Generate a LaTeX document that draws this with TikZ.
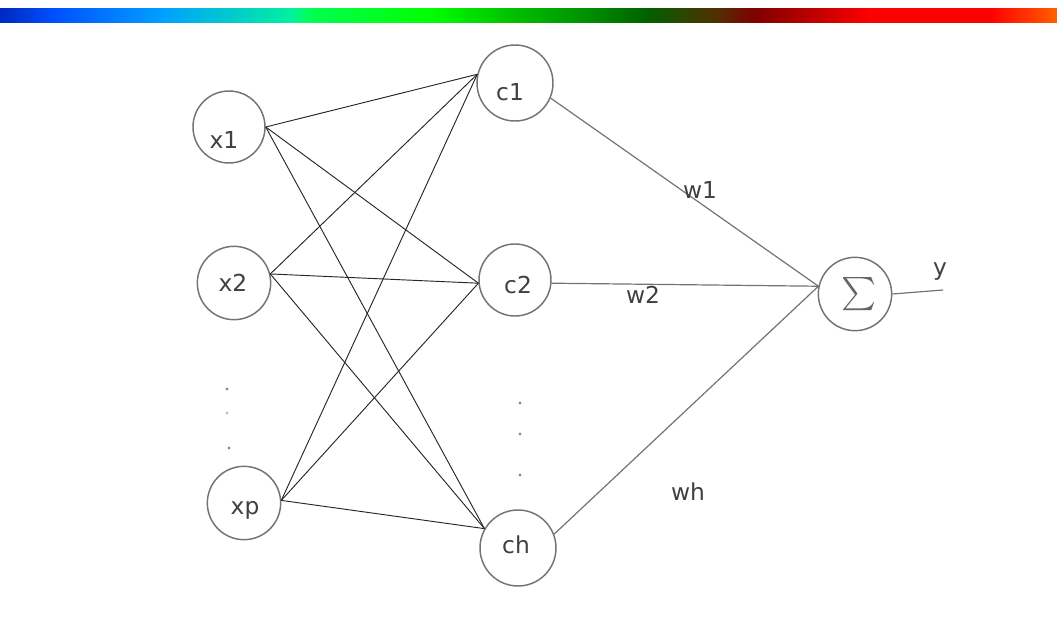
\documentclass[tikz,border=0pt]{standalone}
\usepackage{amsmath}
\usepackage{fontspec}
\setmainfont{DejaVu Sans}
\begin{document}
\begin{tikzpicture}[x=0.75pt,y=-0.75pt,
 neuron/.style={circle,draw=black!55,line width=1.1pt,minimum size=55pt,inner sep=0pt},
 lbl/.style={text=black!75,font=\fontsize{17.5}{17.5}\selectfont,inner sep=0pt},
 wire/.style={draw=black!85,line width=0.7pt},
 outwire/.style={draw=black!55,line width=0.9pt},
 dotmark/.style={circle,fill=black!45,inner sep=0pt,minimum size=2.4pt}]
\useasboundingbox (0,0) rectangle (1057,627);
% gradient bar
\shade[left color={rgb,255:red,0;green,40;blue,192}, right color={rgb,255:red,0;green,80;blue,255}] (0,9) rectangle (54.5,23);
\shade[left color={rgb,255:red,0;green,80;blue,255}, right color={rgb,255:red,0;green,160;blue,255}] (54,9) rectangle (162.5,23);
\shade[left color={rgb,255:red,0;green,160;blue,255}, right color={rgb,255:red,0;green,240;blue,160}] (162,9) rectangle (290.5,23);
\shade[left color={rgb,255:red,0;green,240;blue,160}, right color={rgb,255:red,0;green,255;blue,80}] (290,9) rectangle (310.5,23);
\shade[left color={rgb,255:red,0;green,255;blue,80}, right color={rgb,255:red,0;green,255;blue,0}] (310,9) rectangle (431.5,23);
\shade[left color={rgb,255:red,0;green,255;blue,0}, right color={rgb,255:red,0;green,192;blue,0}] (431,9) rectangle (512.5,23);
\shade[left color={rgb,255:red,0;green,192;blue,0}, right color={rgb,255:red,0;green,144;blue,0}] (512,9) rectangle (586.5,23);
\shade[left color={rgb,255:red,0;green,144;blue,0}, right color={rgb,255:red,0;green,96;blue,0}] (586,9) rectangle (647.5,23);
\shade[left color={rgb,255:red,0;green,96;blue,0}, right color={rgb,255:red,80;green,48;blue,0}] (647,9) rectangle (715.5,23);
\shade[left color={rgb,255:red,80;green,48;blue,0}, right color={rgb,255:red,128;green,0;blue,0}] (715,9) rectangle (755.5,23);
\shade[left color={rgb,255:red,128;green,0;blue,0}, right color={rgb,255:red,224;green,0;blue,0}] (755,9) rectangle (843.5,23);
\shade[left color={rgb,255:red,224;green,0;blue,0}, right color={rgb,255:red,255;green,0;blue,0}] (843,9) rectangle (870.5,23);
\shade[left color={rgb,255:red,255;green,0;blue,0}, right color={rgb,255:red,255;green,0;blue,0}] (870,9) rectangle (991.5,23);
\shade[left color={rgb,255:red,255;green,0;blue,0}, right color={rgb,255:red,255;green,96;blue,0}] (991,9) rectangle (1057,23);
% neurons
\node[neuron,minimum size=54pt] (x1) at (229,127) {};
\node[neuron] (x2) at (234,283) {};
\node[neuron] (xp) at (244,503) {};
\node[neuron,minimum size=57pt] (c1) at (515,83) {};
\node[neuron,minimum size=54pt] (c2) at (515,280) {};
\node[neuron,minimum size=57pt] (ch) at (518,548) {};
\node[neuron] (s) at (855,294) {};
% labels inside
\node[lbl] (x1t) at (224,140) {x1};
\node[lbl] (x2t) at (233,283) {x2};
\node[lbl] (xpt) at (245,510) {xp};
\node[lbl] (c1t) at (510,92) {c1};
\node[lbl] (c2t) at (518,285) {c2};
\node[lbl] (cht) at (516,545) {ch};
\node[text=black!60,inner sep=0pt] (sumt) at (859,294) {\fontsize{25}{25}\selectfont$\textstyle\sum$};
% input to hidden
\foreach \a in {x1.east, x2.14, xp.4}{
  \draw[wire] (\a) -- (c1.167);
  \draw[wire] (\a) -- (c2.185);
  \draw[wire] (\a) -- (ch.150);
}
% hidden to output
\draw[outwire] (c1.-23) -- (s.168);
\draw[outwire] (c2.-5) -- (s.168);
\draw[outwire] (ch.21) -- (s.168);
\coordinate (yend) at (943,290);
\draw[outwire] (s.east) -- (yend);
\node[lbl] (ylab) at (940,272) {y};
% weights
\node[lbl] (w1) at (700,190) {w1};
\node[lbl] (w2) at (643,295) {w2};
\node[lbl] (wh) at (688,492) {wh};
% dots
\node[dotmark] (d1) at (227,389) {};
\node[dotmark,fill=black!25] (d2) at (227,413) {};
\node[dotmark] (d3) at (229,448) {};
\node[dotmark] (d4) at (520,403) {};
\node[dotmark] (d5) at (520,434) {};
\node[dotmark] (d6) at (520,475) {};
\end{tikzpicture}
\end{document}
